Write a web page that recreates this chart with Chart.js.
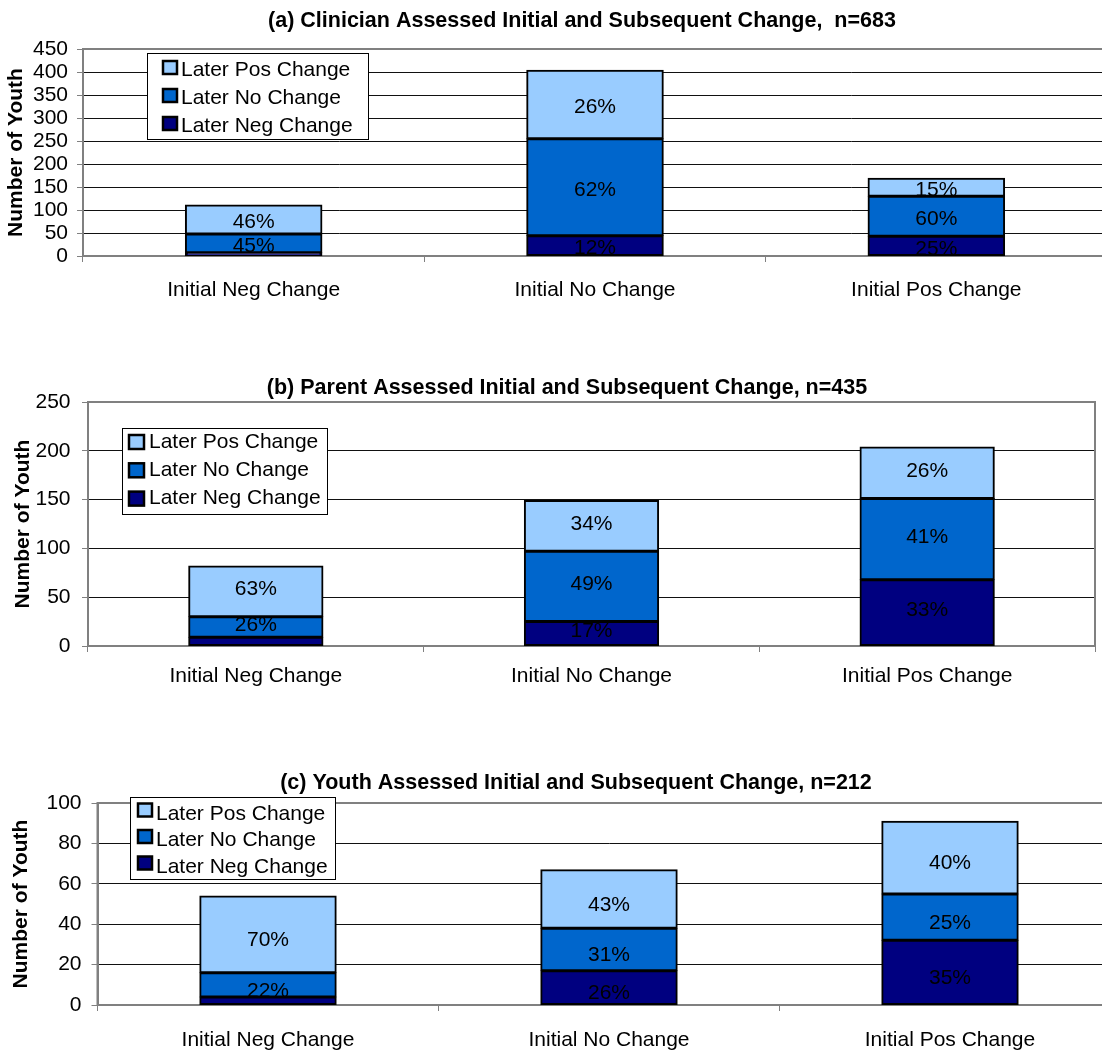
<!DOCTYPE html>
<html><head><meta charset="utf-8">
<script src="https://cdn.jsdelivr.net/npm/chart.js@4"></script>
<style>
html,body{margin:0;padding:0;background:#fff;overflow:hidden;width:1102px;height:1053px;position:relative;}
canvas{position:absolute;left:0;}
</style></head><body>
<canvas id="ca" width="1115" height="320" style="top:0px;width:1115px;height:320px"></canvas>
<canvas id="cb" width="1102" height="350" style="top:360px;width:1102px;height:350px"></canvas>
<canvas id="cc" width="1125" height="293" style="top:760px;width:1125px;height:293px"></canvas>
<script>
// ---------- data ----------
const categories = ['Initial Neg Change', 'Initial No Change', 'Initial Pos Change'];
const seriesNames = ['Later Neg Change', 'Later No Change', 'Later Pos Change'];

const titleA = '(a) Clinician Assessed Initial and Subsequent Change,  n=683';
const clinNeg = [7, 44, 43];
const clinNo  = [41, 211, 87];
const clinPos = [63, 149, 39];
const clinNegPct = ['', '12%', '25%'];
const clinNoPct  = ['45%', '62%', '60%'];
const clinPosPct = ['46%', '26%', '15%'];
const clinMax = 450, clinStep = 50;

const titleB = '(b) Parent Assessed Initial and Subsequent Change, n=435';
const parNeg = [9, 25, 68];
const parNo  = [21, 72, 83];
const parPos = [52, 52, 53];
const parNegPct = ['', '17%', '33%'];
const parNoPct  = ['26%', '49%', '41%'];
const parPosPct = ['63%', '34%', '26%'];
const parMax = 250, parStep = 50;

const titleC = '(c) Youth Assessed Initial and Subsequent Change, n=212';
const youNeg = [4, 17, 32];
const youNo  = [12, 21, 23];
const youPos = [38, 29, 36];
const youNegPct = ['', '26%', '35%'];
const youNoPct  = ['22%', '31%', '25%'];
const youPosPct = ['70%', '43%', '40%'];
const youMax = 100, youStep = 20;

const yAxisTitle = 'Number of Youth';

// ---------- styling ----------
const FONT = "'Liberation Sans', Arial, Helvetica, sans-serif";
const colors = ['#000080', '#0066CC', '#99CCFF'];

const plugins = [{
  id: 'frame',
  beforeDatasetsDraw(chart) {
    const a = chart.chartArea, ctx = chart.ctx;
    ctx.save();
    ctx.strokeStyle = '#808080';
    ctx.lineWidth = 2;
    ctx.strokeRect(a.left, a.top, a.right - a.left, a.bottom - a.top);
    ctx.restore();
  }
}, {
  id: 'pctLabels',
  afterDatasetsDraw(chart, args, opts) {
    const ctx = chart.ctx;
    ctx.save();
    ctx.font = '21px ' + FONT;
    ctx.fillStyle = '#000';
    ctx.textAlign = 'center';
    ctx.textBaseline = 'middle';
    chart.data.datasets.forEach((ds, di) => {
      const meta = chart.getDatasetMeta(di);
      meta.data.forEach((el, i) => {
        const t = ds.pct[i];
        if (!t) return;
        ctx.fillText(t, el.x, (el.y + el.base) / 2 + opts.dy);
      });
    });
    ctx.restore();
  }
}, {
  id: 'boxLegend',
  afterDraw(chart, args, o) {
    const ctx = chart.ctx;
    ctx.save();
    ctx.fillStyle = '#fff';
    ctx.fillRect(o.x, o.y, o.w, o.h);
    ctx.strokeStyle = '#000';
    ctx.lineWidth = 1;
    ctx.strokeRect(o.x + 0.5, o.y + 0.5, o.w, o.h);
    ctx.font = '21px ' + FONT;
    ctx.textAlign = 'left';
    ctx.textBaseline = 'middle';
    const ds = chart.data.datasets.slice().reverse();
    ds.forEach((d, i) => {
      const cy = o.row0 + i * o.rowGap;
      ctx.fillStyle = d.backgroundColor;
      ctx.fillRect(o.sx, cy - o.sh / 2, o.sw, o.sh);
      ctx.strokeStyle = '#000';
      ctx.lineWidth = 2.5;
      ctx.strokeRect(o.sx, cy - o.sh / 2, o.sw, o.sh);
      ctx.fillStyle = '#000';
      ctx.fillText(d.label, o.tx, cy + o.tdy);
    });
    ctx.restore();
  }
}, {
  id: 'headTitle',
  afterDraw(chart, args, o) {
    const ctx = chart.ctx;
    ctx.save();
    ctx.font = 'bold 21.5px ' + FONT;
    ctx.fillStyle = '#000';
    ctx.textAlign = 'center';
    ctx.textBaseline = 'middle';
    ctx.fillText(o.text, o.x, o.y);
    ctx.restore();
  }
}];

function makeChart(id, L, neg, no, pos, negPct, noPct, posPct) {
  const cv = document.getElementById(id);
  const W = cv.width, H = cv.height;
  const mk = (i, data, pct) => ({
    label: seriesNames[i], data, pct,
    backgroundColor: colors[i], borderColor: '#000', borderWidth: 2,
    borderSkipped: false, inflateAmount: 0.5, barPercentage: 0.4, categoryPercentage: 1
  });
  return new Chart(cv, {
    type: 'bar',
    data: {
      labels: categories,
      datasets: [mk(0, neg, negPct), mk(1, no, noPct), mk(2, pos, posPct)]
    },
    plugins,
    options: {
      responsive: false, animation: false,
      layout: { padding: { left: 0, top: L.top, right: W - L.right, bottom: 0 } },
      plugins: {
        legend: { display: false }, title: { display: false }, tooltip: { enabled: false },
        pctLabels: { dy: L.labelDy },
        boxLegend: L.legend,
        headTitle: L.title
      },
      scales: {
        x: {
          stacked: true,
          ticks: { font: { family: FONT, size: 21 }, color: '#000', padding: L.xPad, maxRotation: 0, autoSkip: false },
          grid: { drawOnChartArea: false, drawTicks: true, tickLength: 6, tickColor: '#808080', offset: true },
          border: { color: '#808080', width: 2 },
          afterFit: s => { s.height = H - L.bottom; }
        },
        y: {
          stacked: true, min: 0, max: L.max,
          ticks: { stepSize: L.step, autoSkip: false, font: { family: FONT, size: 21 }, color: '#000', padding: L.yPad },
          grid: { color: '#111', lineWidth: 1, tickLength: 6, tickColor: '#808080' },
          border: { color: '#808080', width: 2 },
          title: { display: true, text: yAxisTitle, color: '#000',
                   font: { family: FONT, size: 21, weight: 'bold', lineHeight: 1 },
                   padding: { top: L.yTitlePad, bottom: 0 } },
          afterFit: s => { s.width = L.left; }
        }
      }
    }
  });
}

makeChart('ca', {
  left: 83, top: 49, right: 1107, bottom: 256, max: clinMax, step: clinStep,
  xPad: 16, yPad: 9, yTitlePad: 5.5, labelDy: 3,
  legend: { x: 147, y: 53, w: 221, h: 86, sx: 163, sw: 14, sh: 13, row0: 67.5, rowGap: 28, tx: 181, tdy: 3 },
  title: { text: titleA, x: 582, y: 21 }
}, clinNeg, clinNo, clinPos, clinNegPct, clinNoPct, clinPosPct);

makeChart('cb', {
  left: 88, top: 42, right: 1095, bottom: 286, max: parMax, step: parStep,
  xPad: 12, yPad: 11.5, yTitlePad: 12.5, labelDy: -2,
  legend: { x: 122, y: 68, w: 205, h: 86, sx: 129, sw: 15, sh: 14, row0: 82, rowGap: 28.3, tx: 149, tdy: 0 },
  title: { text: titleB, x: 567, y: 28 }
}, parNeg, parNo, parPos, parNegPct, parNoPct, parPosPct);

makeChart('cc', {
  left: 97.5, top: 43, right: 1120.5, bottom: 245, max: youMax, step: youStep,
  xPad: 17, yPad: 10, yTitlePad: 10.5, labelDy: 6,
  legend: { x: 130, y: 37, w: 205, h: 82, sx: 138, sw: 14, sh: 13, row0: 50, rowGap: 26.5, tx: 156, tdy: 4 },
  title: { text: titleC, x: 576, y: 23 }
}, youNeg, youNo, youPos, youNegPct, youNoPct, youPosPct);
</script>
</body></html>
